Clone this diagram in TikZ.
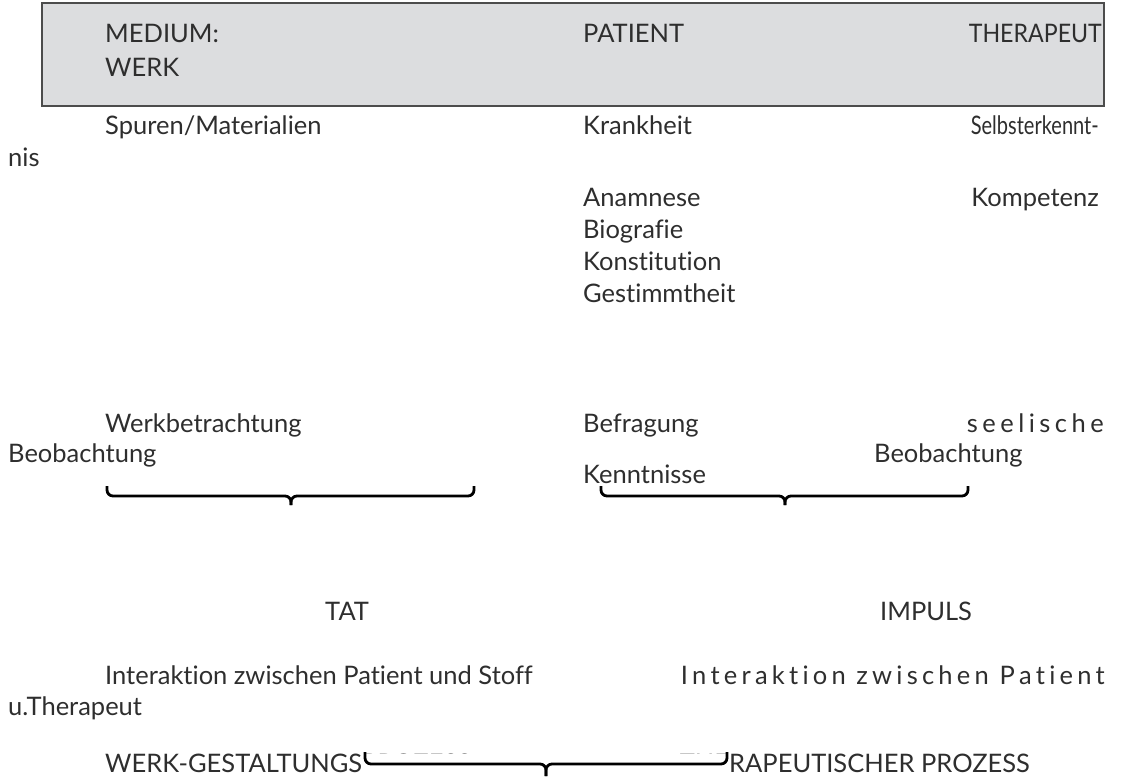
\documentclass[tikz,border=0pt]{standalone}
\usepackage{fontspec}
\setmainfont{Lato}[Ligatures=NoCommon]
\usepackage{graphicx}
\definecolor{boxgray}{HTML}{DCDDDF}
\definecolor{ink}{HTML}{2E2E2E}

\begin{document}
\begin{tikzpicture}[x=1pt,y=-1pt]
\useasboundingbox (0,0) rectangle (1121,776);

\tikzstyle{every node}=[inner sep=0pt,anchor=base west,text=ink,font=\fontsize{25.5}{30}\selectfont];
\tikzstyle{bracket}=[draw=black,line width=2.8pt,rounded corners=6pt];

% Header box with the three column titles
\draw[fill=boxgray,draw=black!70,line width=1.3pt] (42,3) rectangle (1104,106);
\node (medium) at (105,43) {MEDIUM:};
\node (werk) at (105,76) {WERK};
\node (patient) at (583,43) {PATIENT};
\node[anchor=base east] (therapeut) at (1102,43) {\resizebox{133pt}{\height}{THERAPEUT}};

% First row
\node (spuren) at (105,134) {Spuren/Materialien};
\node (krankheit) at (583,134) {Krankheit};
\node[anchor=base east] (selbst) at (1099,134) {\resizebox{128pt}{\height}{Selbsterkennt-}};
\node (nis) at (8,166) {nis};

% Patient column list
\foreach \w [count=\i] in {Anamnese,Biografie,Konstitution,Gestimmtheit}
  \node (p\i) at (583,{206+32*(\i-1)}) {\w};
\node[anchor=base east] (kompetenz) at (1099,206) {Kompetenz};

% Observation row
\node (werkbetr) at (105,432) {Werkbetrachtung};
\node (befragung) at (583,432) {Befragung};
\node[anchor=base east] (seelisch) at (1104,432)
  {\makebox[137pt][s]{s\hfill e\hfill e\hfill l\hfill i\hfill s\hfill c\hfill h\hfill e}};
\node (beob1) at (8,462) {Beobachtung};
\node (beob2) at (874,462) {Beobachtung};
\node (kenntnisse) at (583,483) {Kenntnisse};

% Braces below the two groups
\coordinate (b1l) at (107,486);
\coordinate (b1r) at (474,486);
\coordinate (b1m) at (291,496);
\coordinate (b1t) at (291,505);
\draw[bracket] (b1l) |- (b1m) -- (b1t);
\draw[bracket] (b1r) |- (b1m) -- (b1t);

\coordinate (b2l) at (601,486);
\coordinate (b2r) at (968,486);
\coordinate (b2m) at (785,496);
\coordinate (b2t) at (785,505);
\draw[bracket] (b2l) |- (b2m) -- (b2t);
\draw[bracket] (b2r) |- (b2m) -- (b2t);

% Results
\node (tat) at (325,620) {TAT};
\node (impuls) at (880,620) {IMPULS};
\node (inter1) at (105,684) {Interaktion zwischen Patient und Stoff};
\node[anchor=base east] (inter2) at (1105,684)
  {\makebox[424pt][s]{I\hfill n\hfill t\hfill e\hfill r\hfill a\hfill k\hfill t\hfill i\hfill o\hfill n\hfill\ z\hfill w\hfill i\hfill s\hfill c\hfill h\hfill e\hfill n\hfill\ P\hfill a\hfill t\hfill i\hfill e\hfill n\hfill t}};
\node (uther) at (8,715) {u.Therapeut};

% Processes, partly hidden by the last brace
\node (werkproz) at (105,772) {WERK-GESTALTUNGSPROZESS};
\node[anchor=base east] (therproz) at (1030,772) {THERAPEUTISCHER PROZESS};
\fill[white] (361,754) rectangle (731,776);
\coordinate (b3l) at (365,752);
\coordinate (b3r) at (727,752);
\coordinate (b3m) at (546,764);
\coordinate (b3t) at (546,776);
\draw[bracket] (b3l) |- (b3m) -- (b3t);
\draw[bracket] (b3r) |- (b3m) -- (b3t);

\end{tikzpicture}
\end{document}
